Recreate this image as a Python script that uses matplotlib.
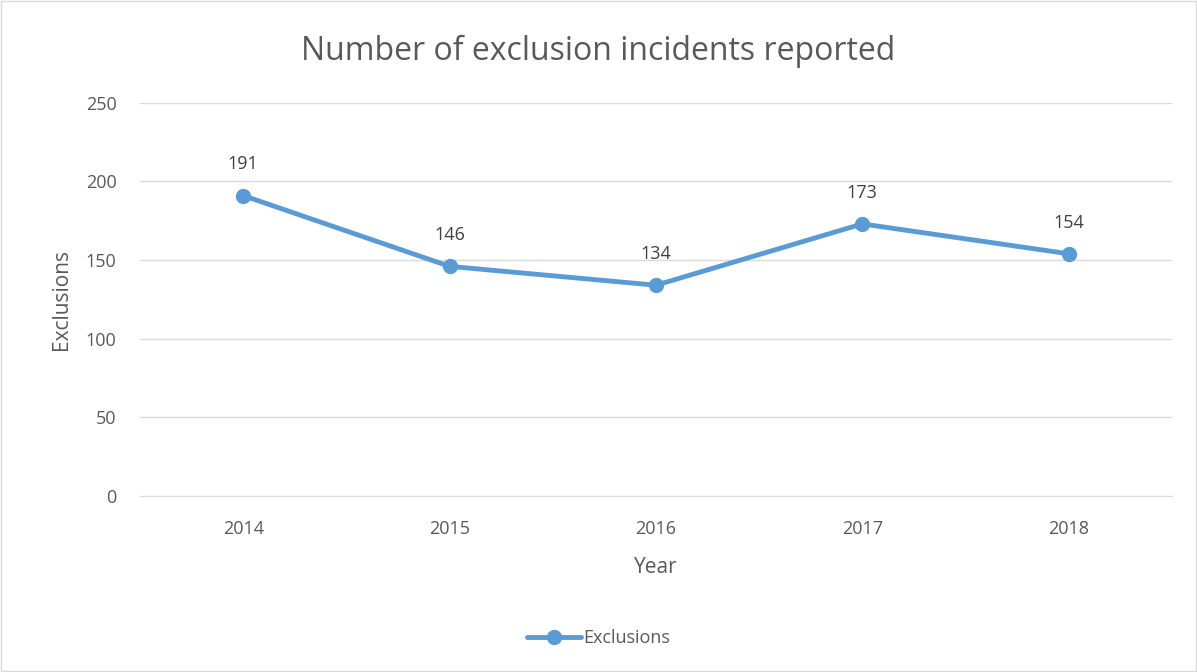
import matplotlib
matplotlib.use("Agg")
import matplotlib.pyplot as plt
from matplotlib.patches import Rectangle

years = ["2014", "2015", "2016", "2017", "2018"]
exclusions = [191, 146, 134, 173, 154]
y_ticks = [0, 50, 100, 150, 200, 250]

blue = "#5B9BD5"
grey = "#595959"
plt.rcParams["font.family"] = ["Open Sans", "DejaVu Sans"]

fig = plt.figure(figsize=(11.97, 6.72), dpi=100)
ax = fig.add_axes([0.117, 0.262, 0.862, 0.585])

x = list(range(len(years)))
ax.plot(x, exclusions, color=blue, linewidth=3.5, marker="o", markersize=10,
        label="Exclusions", solid_capstyle="round", zorder=3)
for xi, v in zip(x, exclusions):
    ax.annotate(str(v), (xi, v), xytext=(0, 16), textcoords="offset points",
                ha="center", va="bottom", fontsize=13, color="#404040")

ax.set_xlim(-0.5, len(years) - 0.5)
ax.set_ylim(0, 250)
ax.set_xticks(x)
ax.set_xticklabels(years)
ax.set_yticks(y_ticks)
ax.grid(axis="y", color="#D9D9D9", linewidth=1)
ax.set_axisbelow(True)
for s in ["top", "right", "left"]:
    ax.spines[s].set_visible(False)
ax.spines["bottom"].set_color("#D9D9D9")
ax.tick_params(axis="both", length=0, labelsize=13, labelcolor=grey)
ax.tick_params(axis="x", pad=17)
ax.tick_params(axis="y", pad=17)

ax.set_xlabel("Year", fontsize=15, color=grey, labelpad=14)
ax.set_ylabel("Exclusions", fontsize=15, color=grey, labelpad=10)
fig.suptitle("Number of exclusion incidents reported", fontsize=23, color=grey, y=0.948)

fig.legend(loc="center", bbox_to_anchor=(0.5, 0.05), frameon=False, fontsize=13,
           labelcolor=grey, handlelength=3, handletextpad=0.1)

fig.patches.append(Rectangle((0.001, 0.001), 0.998, 0.998, transform=fig.transFigure,
                             fill=False, edgecolor="#D9D9D9", linewidth=1))

fig.savefig("out.png", dpi=100)
